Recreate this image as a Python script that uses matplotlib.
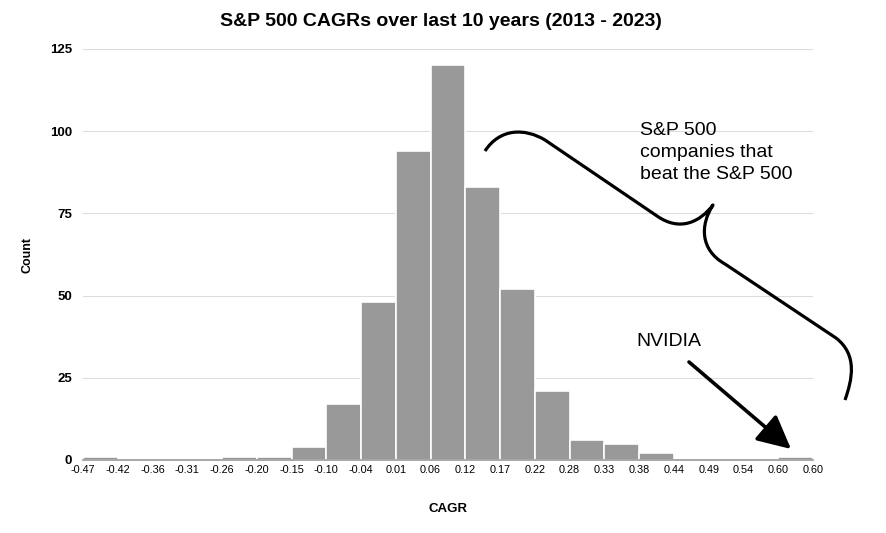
import matplotlib
matplotlib.use("Agg")
import matplotlib.pyplot as plt
from matplotlib.path import Path
from matplotlib.patches import PathPatch

plt.rcParams['font.family'] = ['Liberation Sans', 'DejaVu Sans']

edge_labels = ["-0.47", "-0.42", "-0.36", "-0.31", "-0.26", "-0.20", "-0.15", "-0.10",
               "-0.04", "0.01", "0.06", "0.12", "0.17", "0.22", "0.28", "0.33", "0.38",
               "0.44", "0.49", "0.54", "0.60", "0.60"]
counts = [1, 0, 0, 0, 1, 1, 4, 17, 48, 94, 120, 83, 52, 21, 6, 5, 2, 0, 0, 0, 1]
y_ticks = [0, 25, 50, 75, 100, 125]

W, H = 887, 533
fig = plt.figure(figsize=(W / 100, H / 100), dpi=100)
left, right, bottom_px, top_px = 83, 813, 460, 49
ax = fig.add_axes([left / W, (H - bottom_px) / H, (right - left) / W, (bottom_px - top_px) / H])

n = len(counts)
ax.bar([i + 0.5 for i in range(n)], counts, width=1.0, color="#999999",
       edgecolor="white", linewidth=1.2, zorder=2)
ax.set_xlim(0, n)
ax.set_ylim(0, 125)
ax.set_xticks(range(len(edge_labels)))
ax.set_xticklabels(edge_labels, fontsize=7.8)
ax.set_yticks(y_ticks)
ax.set_yticklabels([str(v) for v in y_ticks], fontsize=9.5, fontweight="bold")
ax.tick_params(axis="x", length=0, pad=3.5)
ax.tick_params(axis="y", length=0, pad=8)
ax.grid(axis="y", color="#dddddd", linewidth=0.8, zorder=0)
for s in ["top", "right", "left"]:
    ax.spines[s].set_visible(False)
ax.spines["bottom"].set_color("#999999")
ax.spines["bottom"].set_linewidth(1.2)
ax.spines["bottom"].set_zorder(3)

ax.set_xlabel("CAGR", fontsize=9.5, fontweight="bold", labelpad=20)

fig.text(28 / W, 1 - 255 / H, "Count", rotation=90, ha="center", va="center",
         fontsize=9, fontweight="bold")
fig.text(441 / W, 1 - 21 / H, "S&P 500 CAGRs over last 10 years (2013 - 2023)",
         ha="center", va="center", fontsize=14, fontweight="bold")

# overlay in pixel coordinates for annotations
ov = fig.add_axes([0, 0, 1, 1], facecolor="none")
ov.set_xlim(0, W)
ov.set_ylim(H, 0)
ov.axis("off")

ov.text(640, 122, "S&P 500\ncompanies that\nbeat the S&P 500", ha="left", va="top",
        fontsize=14, linespacing=1.38)
ov.text(636, 342, "NVIDIA", ha="left", va="center", fontsize=14)

ov.annotate("", xy=(791, 449), xytext=(689, 362),
            arrowprops=dict(arrowstyle="-|>,head_length=1.2,head_width=0.6", lw=2.6,
                            color="black", mutation_scale=17, shrinkA=0, shrinkB=0))

verts = [
    (485, 151),
    (500, 128), (525, 128), (545, 140),
    (657, 216),
    (680, 232), (700, 222), (713, 205),
    (700, 225), (700, 250), (725, 264),
    (836, 338),
    (858, 355), (852, 380), (845, 400),
]
codes = [Path.MOVETO,
         Path.CURVE4, Path.CURVE4, Path.CURVE4,
         Path.LINETO,
         Path.CURVE4, Path.CURVE4, Path.CURVE4,
         Path.CURVE4, Path.CURVE4, Path.CURVE4,
         Path.LINETO,
         Path.CURVE4, Path.CURVE4, Path.CURVE4]
ov.add_patch(PathPatch(Path(verts, codes), facecolor="none", edgecolor="black", lw=2.3,
                       capstyle="butt", joinstyle="round"))

fig.savefig("out.png", dpi=100)
